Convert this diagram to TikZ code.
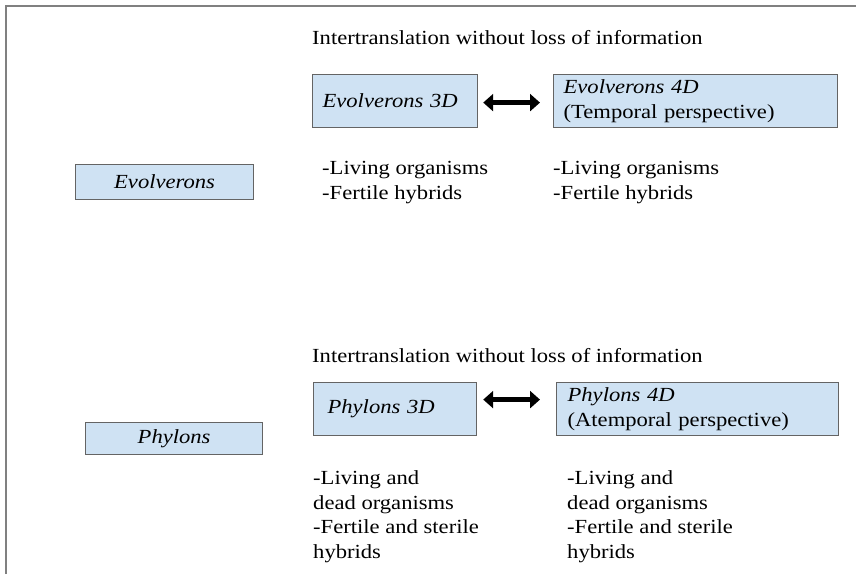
\documentclass[tikz,border=0pt]{standalone}
\usepackage{fontspec}
\setmainfont[FakeStretch=1.13]{Liberation Serif}
\usetikzlibrary{arrows.meta}
\definecolor{boxfill}{RGB}{207,226,243}
\definecolor{boxdraw}{RGB}{100,100,100}
\definecolor{framegray}{RGB}{128,128,128}
\tikzset{
  bx/.style={draw=boxdraw, fill=boxfill, line width=1.2pt, rectangle, inner xsep=10pt, inner ysep=0pt,
    align=left, anchor=north west, minimum height=53pt, font=\fontsize{20}{24.5}\selectfont},
  lbx/.style={draw=boxdraw, fill=boxfill, line width=1.2pt, rectangle, inner sep=0pt,
    align=center, anchor=north west, font=\fontsize{20}{24.5}\selectfont\itshape},
  txt/.style={inner sep=0pt, align=left, anchor=base west, font=\fontsize{20}{24.5}\selectfont},
  dbl/.style={line width=5pt, {Triangle[length=10pt,width=17pt]}-{Triangle[length=10pt,width=17pt]}},
}
\begin{document}
\begin{tikzpicture}[x=1pt,y=-1pt]
\useasboundingbox (0,0) rectangle (856,574);
\draw[framegray, line width=2pt] (6,574) -- (6,6) -- (856,6);
% top group
\node[txt] (h1) at (312,44) {Intertranslation without loss of information};
\node[bx, text width=145pt] (e3) at (312,74) {\textit{Evolverons 3D}};
\node[bx, text width=264pt] (e4) at (553,74) {\textit{Evolverons 4D}\\(Temporal perspective)};
\draw[dbl, shorten <=5pt, shorten >=13pt] ([yshift=-1.5pt]e3.east) -- ([yshift=-1.5pt]e4.west);
\node[txt] (e3t) at (322,199) {-Living organisms\\-Fertile hybrids};
\node[txt] (e4t) at (553,199) {-Living organisms\\-Fertile hybrids};
\node[lbx, minimum width=178pt, minimum height=35pt] (ev) at (75,164) {Evolverons};
% bottom group
\node[txt] (h2) at (312,362) {Intertranslation without loss of information};
\node[bx, text width=135pt, inner xsep=14pt] (p3) at (313,382) {\textit{Phylons 3D}};
\node[bx, text width=260pt, inner xsep=11pt] (p4) at (556,382) {\textit{Phylons 4D}\\(Atemporal perspective)};
\draw[dbl, shorten <=6pt, shorten >=16pt] ([yshift=9.5pt]p3.east) -- ([yshift=9.5pt]p4.west);
\node[txt] (p3t) at (313,558) {-Living and\\dead organisms\\-Fertile and sterile\\hybrids};
\node[txt] (p4t) at (567,558) {-Living and\\dead organisms\\-Fertile and sterile\\hybrids};
\node[lbx, minimum width=177pt, minimum height=32pt] (ph) at (85,422) {Phylons};
\end{tikzpicture}
\end{document}
